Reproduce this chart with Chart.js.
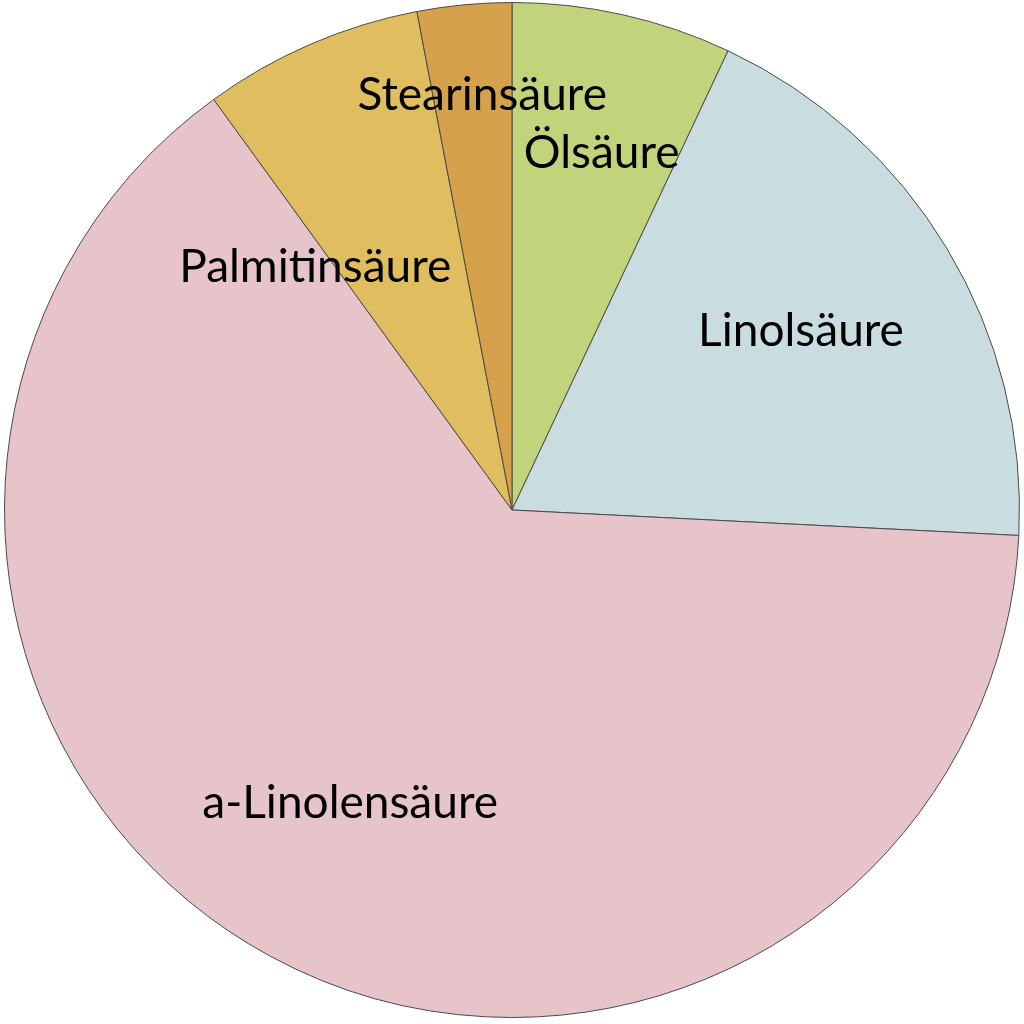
<!DOCTYPE html>
<html>
<head>
<meta charset="utf-8">
<script src="https://cdn.jsdelivr.net/npm/chart.js@4/dist/chart.umd.min.js"></script>
<style>
  html, body { margin: 0; padding: 0; background: #fff; }
  #wrap { width: 1024px; height: 1024px; }
</style>
</head>
<body>
<div id="wrap"><canvas id="pie" width="1024" height="1024"></canvas></div>
<script>
// Fatty acid shares (%), clockwise from 12 o'clock
const categories = ['Ölsäure', 'Linolsäure', 'a-Linolensäure', 'Palmitinsäure', 'Stearinsäure'];
const shares = [7, 18.8, 64.2, 7, 3];
const sliceColors = ['#c1d47b', '#c9dde0', '#e6c4c9', '#e0be5f', '#d5a14a'];

// label placement: angle (deg, clockwise from top) and fraction of radius
const labelPlacement = [
    { angle: 14.1, frac: 0.725 },
    { angle: 58.2, frac: 0.67 },
    { angle: 208.9, frac: 0.66 },
    { angle: 321, frac: 0.616 },
    { angle: -4.1, frac: 0.82 }
];

// Draw the slice names on top of the pie
const sliceLabels = {
    id: 'sliceLabels',
    afterDatasetsDraw(chart) {
        const ctx = chart.ctx;
        const arcs = chart.getDatasetMeta(0).data;
        ctx.save();
        ctx.font = '46px Lato, "Open Sans", sans-serif';
        ctx.fillStyle = '#000';
        ctx.textAlign = 'center';
        ctx.textBaseline = 'middle';
        arcs.forEach(function(arc, i) {
            const p = labelPlacement[i];
            const a = p.angle * Math.PI / 180;
            const r = arc.outerRadius * p.frac;
            ctx.fillText(categories[i], arc.x + Math.sin(a) * r, arc.y - Math.cos(a) * r);
        });
        ctx.restore();
    }
};

new Chart(document.getElementById('pie').getContext('2d'), {
    type: 'pie',
    data: {
        labels: categories,
        datasets: [{
            data: shares,
            backgroundColor: sliceColors,
            borderColor: '#4a4a4a',
            borderWidth: 1
        }]
    },
    options: {
        responsive: false,
        animation: false,
        layout: { padding: { left: 4, right: 4, top: 2, bottom: 6 } },
        plugins: {
            legend: { display: false },
            tooltip: { enabled: false }
        }
    },
    plugins: [sliceLabels]
});
</script>
</body>
</html>
